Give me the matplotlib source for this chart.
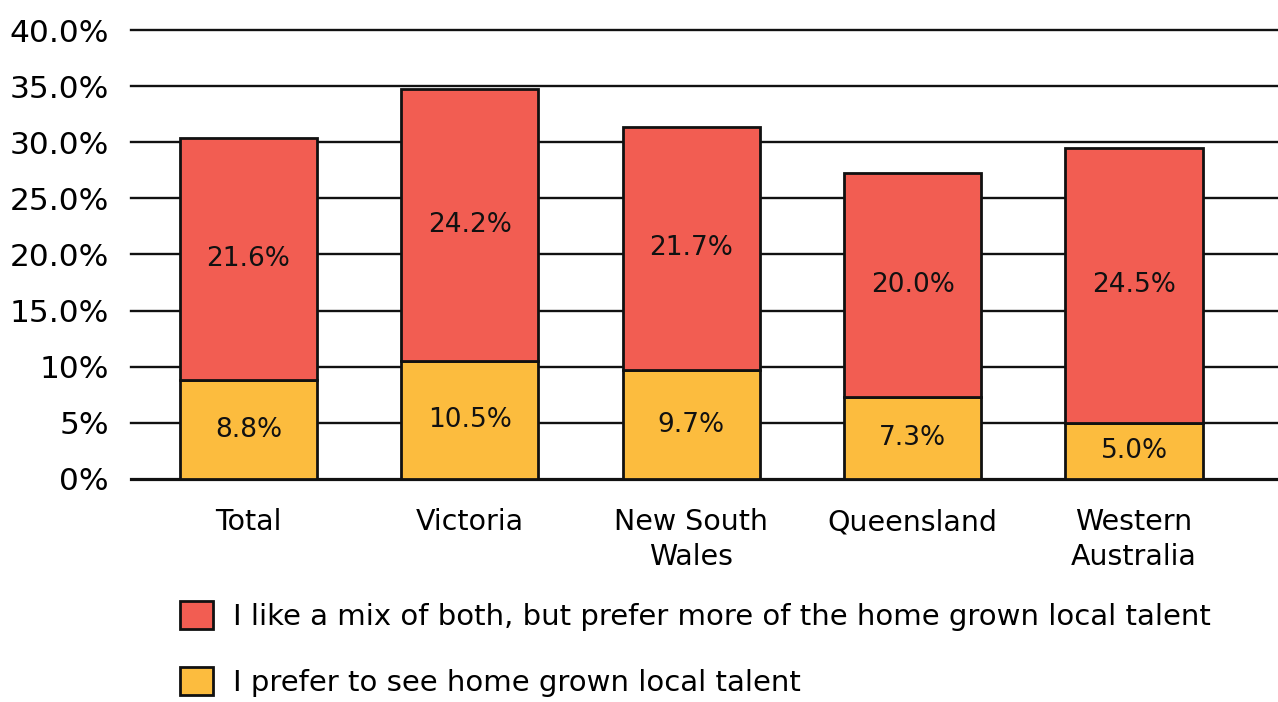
import matplotlib
matplotlib.use("Agg")
import matplotlib.pyplot as plt
from matplotlib.patches import Patch
import numpy as np

# data
regions = ["Total", "Victoria", "New South\nWales", "Queensland", "Western\nAustralia"]
home_grown = [8.8, 10.5, 9.7, 7.3, 5.0]
mix_both = [21.6, 24.2, 21.7, 20.0, 24.5]
ytick_vals = [0, 5, 10, 15, 20, 25, 30, 35, 40]
ytick_labels = ["0%", "5%", "10%", "15.0%", "20.0%", "25.0%", "30.0%", "35.0%", "40.0%"]
legend_labels = ["I like a mix of both, but prefer more of the home grown local talent",
                 "I prefer to see home grown local talent"]

red = "#F25D52"
yellow = "#FCBC3E"
ink = "#111111"

plt.rcParams['font.family'] = ['DejaVu Sans']

fig = plt.figure(figsize=(12.78, 7.02), dpi=100)
ax = fig.add_axes([131/1278, 1 - 479/702, 1 - 131/1278, (479 - 30)/702])

x = np.arange(len(regions))
w = 0.62
ax.bar(x, home_grown, w, color=yellow, edgecolor=ink, linewidth=2, zorder=3)
ax.bar(x, mix_both, w, bottom=home_grown, color=red, edgecolor=ink, linewidth=2, zorder=3)

for i in range(len(regions)):
    ax.text(x[i], home_grown[i] / 2, f"{home_grown[i]:.1f}%", ha="center", va="center",
            fontsize=19, color=ink, zorder=4)
    ax.text(x[i], home_grown[i] + mix_both[i] / 2, f"{mix_both[i]:.1f}%", ha="center", va="center",
            fontsize=19, color=ink, zorder=4)

# gridlines
for v in ytick_vals:
    ax.axhline(v, color=ink, linewidth=2.3 if v == 0 else 1.7, zorder=1, clip_on=False)

ax.set_xlim(-0.53, 4.65)
ax.set_ylim(0, 40)
ax.set_yticks(ytick_vals)
ax.set_yticklabels(ytick_labels, fontsize=22.5)
ax.set_xticks(x)
ax.set_xticklabels(regions, fontsize=20.5, linespacing=1.3)
ax.tick_params(axis="y", length=0, pad=16)
ax.tick_params(axis="x", length=0, pad=21)
for s in ax.spines.values():
    s.set_visible(False)

handles = [Patch(facecolor=red, edgecolor=ink, linewidth=2),
           Patch(facecolor=yellow, edgecolor=ink, linewidth=2)]
fig.legend(handles, legend_labels, loc="upper left", bbox_to_anchor=(180/1278, 1 - 601/702),
           frameon=False, fontsize=21, handlelength=1.12, handleheight=1.12,
           handletextpad=0.7, labelspacing=1.22, borderaxespad=0, borderpad=0)

fig.savefig("out.png", dpi=100)
